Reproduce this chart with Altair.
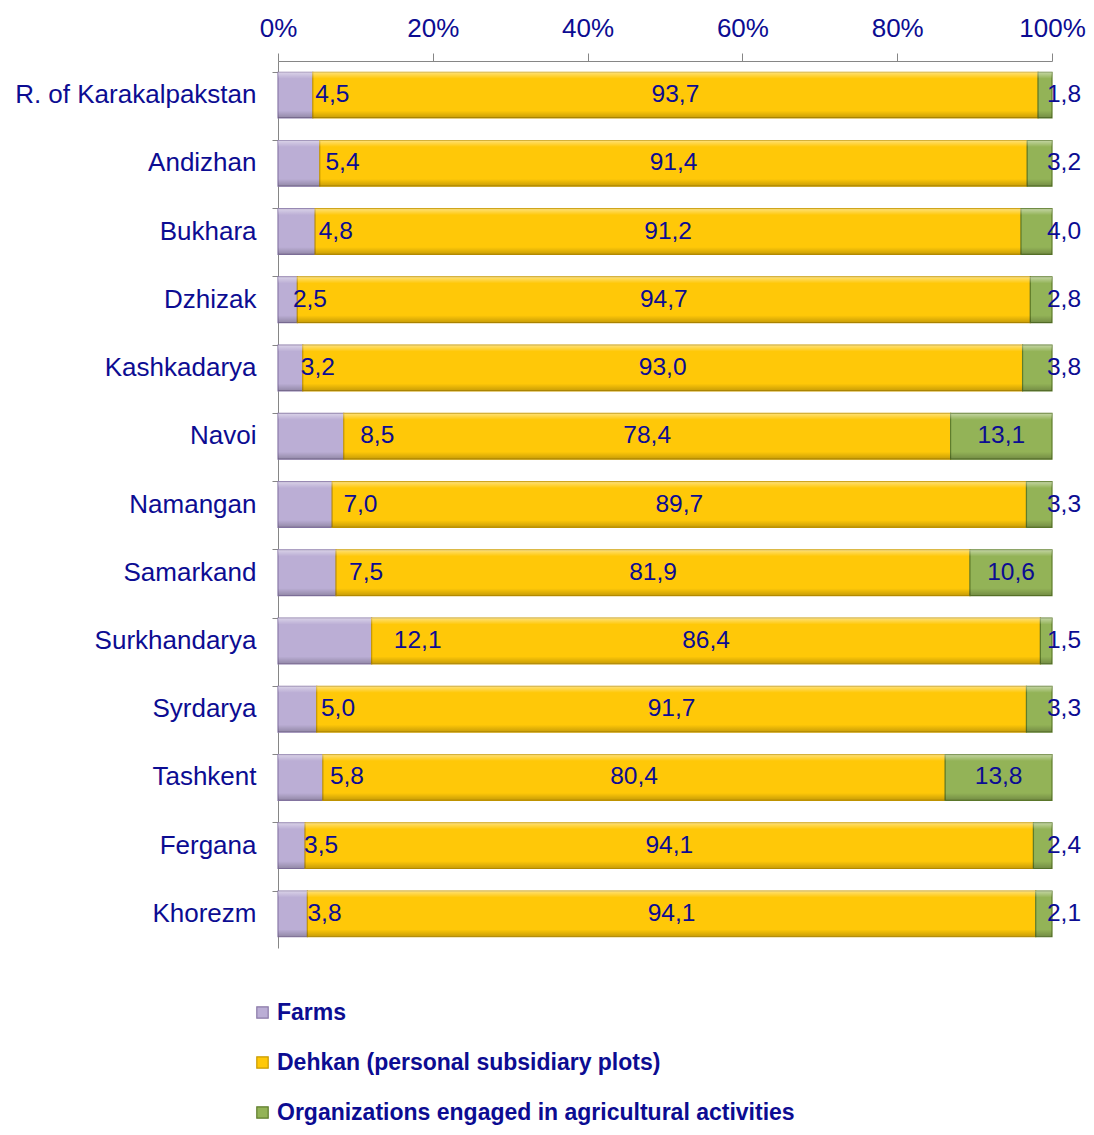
import altair as alt
import pandas as pd

regions = ["R. of Karakalpakstan", "Andizhan", "Bukhara", "Dzhizak", "Kashkadarya",
           "Navoi", "Namangan", "Samarkand", "Surkhandarya", "Syrdarya", "Tashkent",
           "Fergana", "Khorezm"]
farms = [4.5, 5.4, 4.8, 2.5, 3.2, 8.5, 7.0, 7.5, 12.1, 5.0, 5.8, 3.5, 3.8]
dehkan = [93.7, 91.4, 91.2, 94.7, 93.0, 78.4, 89.7, 81.9, 86.4, 91.7, 80.4, 94.1, 94.1]
orgs = [1.8, 3.2, 4.0, 2.8, 3.8, 13.1, 3.3, 10.6, 1.5, 3.3, 13.8, 2.4, 2.1]
series = ["Farms", "Dehkan (personal subsidiary plots)",
          "Organizations engaged in agricultural activities"]
fills = ["#BBAED5", "#FFC808", "#93B357"]
strokes = ["#8A7AA8", "#C99A00", "#5F7D2C"]
ticks = [0, 20, 40, 60, 80, 100]

NAVY = "#0C0C92"
FONT = "Liberation Sans"


def fmt(v):
    return f"{v:.1f}".replace(".", ",")


rows = []
for i, r in enumerate(regions):
    for k, (s, vals) in enumerate(zip(series, [farms, dehkan, orgs])):
        rows.append({"region": r, "series": s, "ord": k, "value": vals[i],
                     "label": fmt(vals[i])})
df = pd.DataFrame(rows)

wide = pd.DataFrame({"region": regions, "farms": farms, "dehkan": dehkan, "orgs": orgs})
wide["fl"] = [fmt(v) for v in farms]
wide["dl"] = [fmt(v) for v in dehkan]
wide["ol"] = [fmt(v) for v in orgs]

yenc = alt.Y("region:N", sort=regions, title=None,
             scale=alt.Scale(paddingInner=0.33, paddingOuter=0.165),
             axis=alt.Axis(labelFont=FONT, labelFontSize=26, labelColor=NAVY,
                           labelPadding=16, tickSize=6, tickColor="#868686",
                           domainColor="#868686", bandPosition=0, ticks=True,
                           labelLimit=400))

xenc = alt.X("value:Q", stack="zero", title=None,
             scale=alt.Scale(domain=[0, 100], nice=False),
             axis=alt.Axis(orient="top", values=ticks, labelExpr="datum.value + '%'",
                           labelFont=FONT, labelFontSize=26, labelColor=NAVY,
                           tickSize=8, labelPadding=12, tickColor="#868686",
                           domainColor="#868686", grid=False, labelFlush=False))

bars = alt.Chart(df).mark_bar(strokeWidth=1.2).encode(
    x=xenc,
    y=yenc,
    color=alt.Color("series:N", scale=alt.Scale(domain=series, range=fills),
                    legend=alt.Legend(title=None, orient="none", legendX=-27, legendY=940,
                                      direction="vertical", symbolType="square",
                                      symbolSize=130, symbolStrokeWidth=1.2,
                                      labelFont=FONT, labelFontSize=23,
                                      labelFontWeight="bold", labelColor=NAVY,
                                      labelLimit=1000, rowPadding=26, labelOffset=3)),
    stroke=alt.Stroke("series:N", scale=alt.Scale(domain=series, range=strokes),
                      legend=None),
    order=alt.Order("ord:Q"),
)

bevel = alt.Chart(df).mark_bar(
    fill={"gradient": "linear", "x1": 0, "y1": 0, "x2": 0, "y2": 1,
          "stops": [{"offset": 0, "color": "rgba(255,255,255,0.45)"},
                    {"offset": 0.14, "color": "rgba(255,255,255,0.0)"},
                    {"offset": 0.84, "color": "rgba(0,0,0,0.0)"},
                    {"offset": 1, "color": "rgba(0,0,0,0.22)"}]},
    strokeWidth=0,
).encode(
    x=alt.X("value:Q", stack="zero"),
    y=alt.Y("region:N", sort=regions),
    detail="series:N",
    order=alt.Order("ord:Q"),
)

base_text = alt.Chart(wide)
tprops = dict(font=FONT, fontSize=24.5, color=NAVY, baseline="middle")

farm_lab = base_text.transform_calculate(px="datum.farms * 1.45 + 0.5").mark_text(
    align="center", **tprops).encode(
    x="px:Q", y=alt.Y("region:N", sort=regions), text="fl:N")

dehkan_lab = base_text.transform_calculate(px="datum.farms + datum.dehkan / 2").mark_text(
    align="center", **tprops).encode(
    x="px:Q", y=alt.Y("region:N", sort=regions), text="dl:N")

org_big = base_text.transform_filter("datum.orgs >= 10").transform_calculate(
    px="100 - datum.orgs / 2").mark_text(align="center", **tprops).encode(
    x="px:Q", y=alt.Y("region:N", sort=regions), text="ol:N")

org_small = base_text.transform_filter("datum.orgs < 10").transform_calculate(
    px="100").mark_text(align="center", dx=12, **tprops).encode(
    x="px:Q", y=alt.Y("region:N", sort=regions), text="ol:N")

chart = alt.layer(bars, bevel, farm_lab, dehkan_lab, org_big, org_small).properties(
    width=774, height=887,
    autosize=alt.AutoSizeParams(type="none"),
    padding={"left": 270, "top": 53, "right": 34, "bottom": 178},
).configure_view(stroke=None)

chart.save("out.html", embed_options={"renderer": "svg", "actions": False})
